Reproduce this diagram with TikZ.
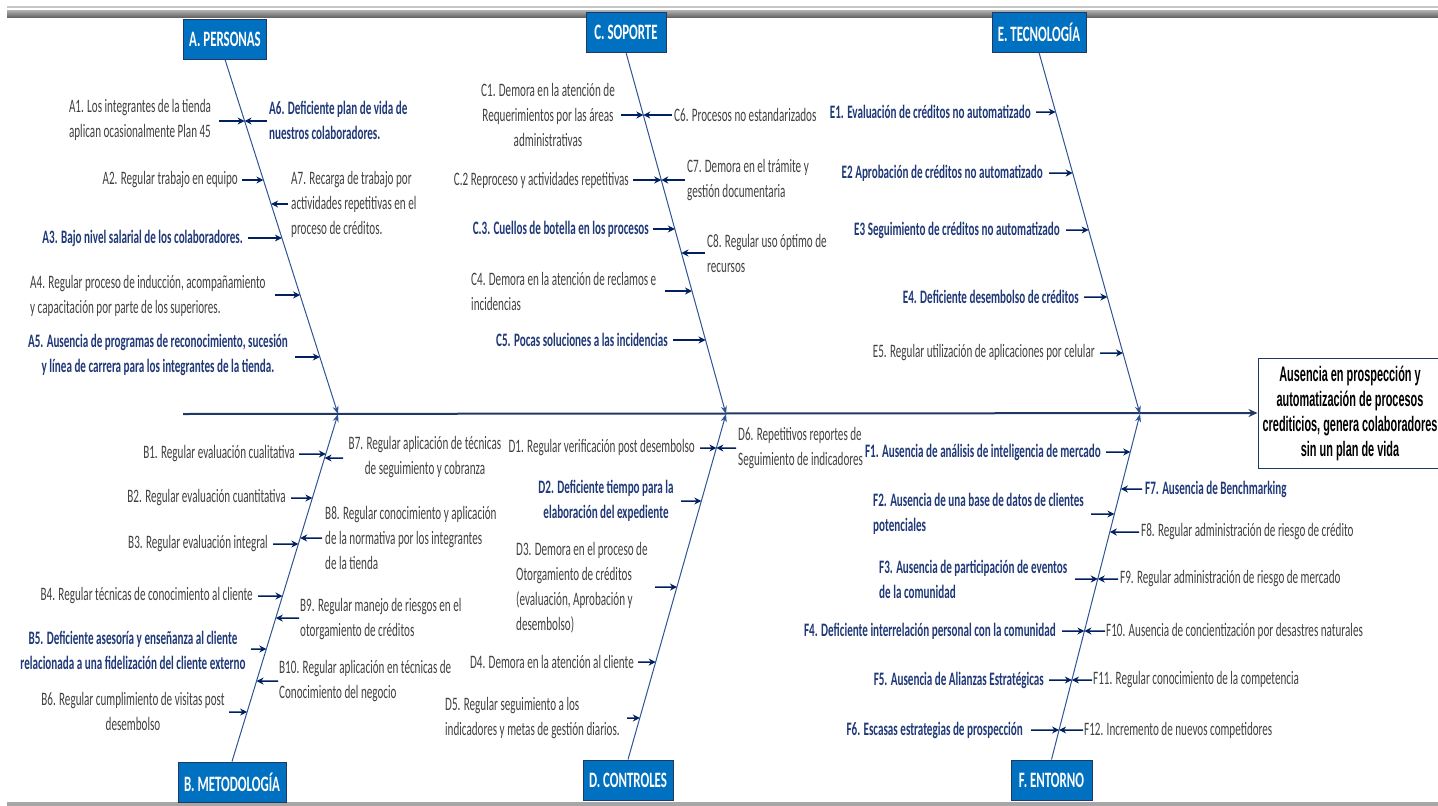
\documentclass[tikz,border=0pt]{standalone}
\usepackage{fontspec}
\setmainfont{Carlito}[FakeStretch=0.585]
\newfontfamily\efectofont{Liberation Sans}[FakeStretch=0.52]
\usetikzlibrary{arrows.meta}
\definecolor{NavyLine}{RGB}{31,56,100}
\definecolor{ArrowNavy}{RGB}{0,32,96}
\definecolor{BoneBlue}{RGB}{47,84,150}
\definecolor{BoxBlue}{RGB}{0,112,192}
\definecolor{TextGray}{RGB}{64,64,64}
\definecolor{TextBlue}{RGB}{31,56,120}

\tikzset{
  txt/.style={inner sep=0pt, text=TextGray, font=\fontsize{19}{25}\selectfont},
  btxt/.style={inner sep=0pt, text=TextBlue, font=\fontsize{19}{25}\selectfont\bfseries},
  catbox/.style={draw=NavyLine, fill=BoxBlue, text=white, line width=1pt, minimum height=40pt, inner sep=0pt, font=\fontsize{22}{26}\selectfont\bfseries},
  cause/.style={draw=ArrowNavy, line width=1.5pt, -{Stealth[length=7pt,width=7pt]}},
  bone/.style={draw=BoneBlue, line width=1pt, -{Stealth[length=8pt,width=6pt]}},
  spine/.style={draw=NavyLine, line width=2pt, -{Stealth[length=9pt,width=8pt]}}
}

\begin{document}
\begin{tikzpicture}[x=1pt, y=-1pt]
  \useasboundingbox (0,0) rectangle (1438,806);

  % Border bars
  \fill[gray!45] (7,6) rectangle (1438,8);
  \shade[top color=gray!60, bottom color=gray!80!black] (7,10) rectangle (1438,17);
  \fill[gray!70] (7,802) rectangle (1438,806);

  % Effect
  \node[draw=NavyLine, line width=1pt, minimum width=184pt, minimum height=110pt, align=center,
        font=\efectofont\fontsize{21}{25}\selectfont\bfseries] (efecto) at (1350,413)
        {Ausencia en prospección y\\automatización de procesos\\crediticios, genera colaboradores\\sin un plan de vida};

  % Spine
  \coordinate (cola) at (183,414);
  \coordinate (jA) at (338,414);
  \coordinate (jC) at (726,414);
  \coordinate (jE) at (1140,414);
  \draw[spine] (cola) -- (efecto.west);

  % Categories
  \node[catbox, minimum width=83pt] (per) at (225,39) {A. PERSONAS};
  \node[catbox, minimum width=80pt] (sop) at (626,32) {C. SOPORTE};
  \node[catbox, minimum width=94pt] (tec) at (1039,32) {E. TECNOLOGÍA};
  \node[catbox, minimum width=108pt] (met) at (232,782) {B. METODOLOGÍA};
  \node[catbox, minimum width=90pt] (con) at (628,780) {D. CONTROLES};
  \node[catbox, minimum width=81pt] (ent) at (1051.5,780) {F. ENTORNO};

  % Bones
  \coordinate (topA) at (per.south);
  \coordinate (topC) at (sop.south);
  \coordinate (topE) at (tec.south);
  \coordinate (botB) at (met.north);
  \coordinate (botD) at (con.north);
  \coordinate (botF) at (ent.north);
  \draw[bone] (topA) -- (jA);
  \draw[bone] (botB) -- (jA);
  \draw[bone] (topC) -- (jC);
  \draw[bone] (botD) -- (jC);
  \draw[bone] (topE) -- (jE);
  \draw[bone] (botF) -- (jE);

  % A. Personas
  \node[txt, align=center] (a1) at (140,120) {A1. Los integrantes de la tienda\\aplican ocasionalmente Plan 45};
  \node[btxt, align=left, anchor=west] (a6) at (269,120) {A6. Deficiente plan de vida de\\nuestros colaboradores.};
  \node[txt, anchor=east] (a2) at (238,180) {A2. Regular trabajo en equipo};
  \node[txt, align=left, anchor=west] (a7) at (291,204) {A7. Recarga de trabajo por\\actividades repetitivas en el\\proceso de créditos.};
  \node[btxt, anchor=east] (a3) at (243,238) {A3. Bajo nivel salarial de los colaboradores.};
  \node[txt, align=left, anchor=west] (a4) at (30,296) {A4. Regular proceso de inducción, acompañamiento\\y capacitación por parte de los superiores.};
  \node[btxt, align=center] (a5) at (158,355) {A5. Ausencia de programas de reconocimiento, sucesión\\y línea de carrera para los integrantes de la tienda.};

  % C. Soporte
  \node[txt, align=center] (c1) at (548,115) {C1. Demora en la atención de\\Requerimientos por las áreas\\administrativas};
  \node[txt, anchor=west] (c6) at (674,115) {C6. Procesos no estandarizados};
  \node[txt, anchor=east] (c2) at (629,180) {C.2 Reproceso y actividades repetitivas};
  \node[txt, align=left, anchor=west] (c7) at (687,180) {C7. Demora en el trámite y\\gestión documentaria};
  \node[btxt, anchor=east] (c3) at (649,229) {C.3. Cuellos de botella en los procesos};
  \node[txt, align=left, anchor=west] (c8) at (707,253) {C8. Regular uso óptimo de\\recursos};
  \node[txt, align=left, anchor=west] (c4) at (471,291) {C4. Demora en la atención de reclamos e\\incidencias};
  \node[btxt, anchor=east] (c5) at (668,340) {C5. Pocas soluciones a las incidencias};

  % E. Tecnologia
  \node[btxt, anchor=east] (e1) at (1031,112) {E1. Evaluación de créditos no automatizado};
  \node[btxt, anchor=east] (e2) at (1043,173) {E2 Aprobación de créditos no automatizado};
  \node[btxt, anchor=east] (e3) at (1060,230) {E3 Seguimiento de créditos no automatizado};
  \node[btxt, anchor=east] (e4) at (1079,297) {E4. Deficiente desembolso de créditos};
  \node[txt, anchor=east] (e5) at (1095,353) {E5. Regular utilización de aplicaciones por celular};

  % B. Metodologia
  \node[txt, anchor=east] (b1) at (295,454) {B1. Regular evaluación cualitativa};
  \node[txt, align=center] (b7) at (425,457) {B7. Regular aplicación de técnicas\\de seguimiento y cobranza};
  \node[txt, anchor=east] (b2) at (286,498) {B2. Regular evaluación cuantitativa};
  \node[txt, align=left, anchor=west] (b8) at (325,538) {B8. Regular conocimiento y aplicación\\de la normativa por los integrantes\\de la tienda};
  \node[txt, anchor=east] (b3) at (268,544) {B3. Regular evaluación integral};
  \node[txt, anchor=east] (b4) at (253,596) {B4. Regular técnicas de conocimiento al cliente};
  \node[txt, align=left, anchor=west] (b9) at (300,619) {B9. Regular manejo de riesgos en el\\otorgamiento de créditos};
  \node[btxt, align=center] (b5) at (133,650) {B5. Deficiente asesoría y enseñanza al cliente\\relacionada a una fidelización del cliente externo};
  \node[txt, align=left, anchor=west] (b10) at (279,681) {B10. Regular aplicación en técnicas de\\Conocimiento del negocio};
  \node[txt, align=center] (b6) at (133,711) {B6. Regular cumplimiento de visitas post\\desembolso};

  % D. Controles
  \node[txt, anchor=east] (d1) at (695,448) {D1. Regular verificación post desembolso};
  \node[txt, align=left, anchor=west] (d6) at (738,448) {D6. Repetitivos reportes de\\Seguimiento de indicadores};
  \node[btxt, align=center] (d2) at (606,501) {D2. Deficiente tiempo para la\\elaboración del expediente};
  \node[txt, align=left, anchor=west] (d3) at (516,588) {D3. Demora en el proceso de\\Otorgamiento de créditos\\(evaluación, Aprobación y\\desembolso)};
  \node[txt, anchor=east] (d4) at (634,662) {D4. Demora en la atención al cliente};
  \node[txt, align=left, anchor=west] (d5) at (445,718) {D5. Regular seguimiento a los\\indicadores y metas de gestión diarios.};

  % F. Entorno
  \node[btxt, anchor=east] (f1) at (1101,452) {F1. Ausencia de análisis de inteligencia de mercado};
  \node[btxt, anchor=west] (f7) at (1145,489) {F7. Ausencia de Benchmarking};
  \node[btxt, align=left, anchor=west] (f2) at (873,514) {F2. Ausencia de una base de datos de clientes\\potenciales};
  \node[txt, anchor=west] (f8) at (1141,532) {F8. Regular administración de riesgo de crédito};
  \node[btxt, align=left, anchor=west] (f3) at (879,579) {F3. Ausencia de participación de eventos\\de la comunidad};
  \node[txt, anchor=west] (f9) at (1120,579) {F9. Regular administración de riesgo de mercado};
  \node[btxt, anchor=east] (f4) at (1056,631) {F4. Deficiente interrelación personal con la comunidad};
  \node[txt, anchor=west] (f10) at (1106,631) {F10. Ausencia de concientización por desastres naturales};
  \node[btxt, anchor=east] (f5) at (1044,680) {F5. Ausencia de Alianzas Estratégicas};
  \node[txt, anchor=west] (f11) at (1093,680) {F11. Regular conocimiento de la competencia};
  \node[btxt, anchor=east] (f6) at (1023,730) {F6. Escasas estrategias de prospección};
  \node[txt, anchor=west] (f12) at (1084,730) {F12. Incremento de nuevos competidores};

  % Cause arrows (start, bone, height)
  \foreach \n/\p/\q/\xs/\y in {a1/topA/jA/219/121, a6/topA/jA/267/121, a2/topA/jA/242/180,
      a7/topA/jA/288/204, a3/topA/jA/248/238, a4/topA/jA/275/295, a5/topA/jA/295/357,
      c1/topC/jC/621/115, c6/topC/jC/672/115, c2/topC/jC/633/180, c7/topC/jC/685/180,
      c3/topC/jC/653/229, c8/topC/jC/705/253, c4/topC/jC/665/291, c5/topC/jC/673/340,
      e1/topE/jE/1036/112, e2/topE/jE/1049/173, e3/topE/jE/1066/230, e4/topE/jE/1084/297,
      e5/topE/jE/1100/353,
      b1/botB/jA/299/454, b7/botB/jA/343/458, b2/botB/jA/291/498, b8/botB/jA/322/538,
      b3/botB/jA/273/544, b4/botB/jA/258/596, b9/botB/jA/299/618, b5/botB/jA/251/649,
      b10/botB/jA/278/681, b6/botB/jA/229/712,
      d1/botD/jC/700/448, d6/botD/jC/736/448, d2/botD/jC/681/501, d3/botD/jC/655/587,
      d4/botD/jC/638/662, d5/botD/jC/627/718,
      f1/botF/jE/1106/452, f7/botF/jE/1142/489, f2/botF/jE/1091/514, f8/botF/jE/1139/532,
      f3/botF/jE/1075/579, f9/botF/jE/1118/579, f4/botF/jE/1062/631, f10/botF/jE/1105/631,
      f5/botF/jE/1049/680, f11/botF/jE/1092/680, f6/botF/jE/1031/730, f12/botF/jE/1083/730}{
    \coordinate (s\n) at (\xs,\y);
    \coordinate (t\n) at (intersection of {\p}--{\q} and {0,\y}--{10,\y});
    \draw[cause] (s\n) -- (t\n);
  }
\end{tikzpicture}
\end{document}
